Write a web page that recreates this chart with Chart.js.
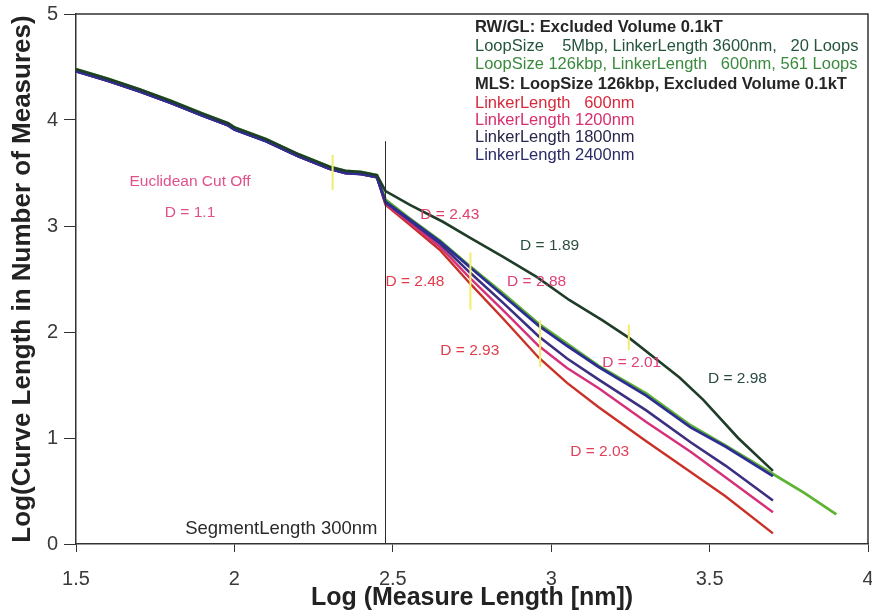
<!DOCTYPE html>
<html>
<head>
<meta charset="utf-8">
<script src="https://cdn.jsdelivr.net/npm/chart.js@4.4.1/dist/chart.umd.min.js"></script>
<style>
    html, body { margin: 0; padding: 0; background: #fff; }
    #wrap { width: 872px; height: 613px; position: relative; }
</style>
</head>
<body>
<div id="wrap"><canvas id="myChart"></canvas></div>
<script>
// shared start of all curves (before the segment length)
let xHead = [1.5, 1.6, 1.7, 1.8, 1.9, 1.98, 2.0, 2.1, 2.2, 2.3, 2.35, 2.4, 2.45];
let headMls = [4.46, 4.37, 4.27, 4.16, 4.04, 3.95, 3.91, 3.80, 3.66, 3.54, 3.50, 3.49, 3.46];
let headRw = [4.48, 4.39, 4.29, 4.18, 4.06, 3.97, 3.93, 3.82, 3.68, 3.56, 3.52, 3.51, 3.48];

// MLS curves after the segment length
let xMls = [2.477, 2.55, 2.65, 2.74, 2.85, 2.96, 3.05, 3.15, 3.3, 3.44, 3.55, 3.7];
let mls600 = [3.20, 3.02, 2.77, 2.47, 2.12, 1.76, 1.52, 1.29, 0.97, 0.68, 0.45, 0.10];
let mls1200 = [3.21, 3.04, 2.80, 2.52, 2.20, 1.87, 1.66, 1.47, 1.15, 0.87, 0.63, 0.30];
let mls1800 = [3.22, 3.06, 2.83, 2.57, 2.27, 1.96, 1.75, 1.55, 1.26, 0.96, 0.74, 0.41];
let mls2400 = [3.23, 3.07, 2.85, 2.62, 2.34, 2.06, 1.87, 1.67, 1.40, 1.10, 0.92, 0.64];

// RW/GL curves
let xRw5M = [2.477, 2.554, 2.658, 2.743, 2.847, 2.954, 3.058, 3.162, 3.248, 3.333, 3.405, 3.48, 3.59, 3.70];
let rw5M = [3.33, 3.20, 3.04, 2.89, 2.71, 2.52, 2.30, 2.11, 1.94, 1.74, 1.57, 1.36, 1.00, 0.69];
let xRw126 = [2.477, 2.55, 2.65, 2.74, 2.85, 2.96, 3.05, 3.15, 3.3, 3.44, 3.55, 3.7, 3.8, 3.9];
let rw126 = [3.25, 3.08, 2.86, 2.63, 2.36, 2.08, 1.89, 1.68, 1.42, 1.12, 0.93, 0.66, 0.48, 0.28];

// yellow cut off marks
let markX = [2.31, 2.745, 2.965, 3.245];
let markLow = [3.34, 2.21, 1.67, 1.83];
let markHigh = [3.67, 2.75, 2.11, 2.07];

let segmentX = 2.477;
let segmentTop = 3.8;

let xTicks = [1.5, 2, 2.5, 3, 3.5, 4];
let yTicks = [0, 1, 2, 3, 4, 5];

let notes = [
    ["Euclidean Cut Off", 1.86, 3.42, "#e2508c"],
    ["D = 1.1", 1.86, 3.13, "#e2508c"],
    ["D = 2.43", 2.68, 3.11, "#e0406c"],
    ["D = 1.89", 2.995, 2.81, "#2b4e3c"],
    ["D = 2.48", 2.57, 2.47, "#e23c4c"],
    ["D = 2.88", 2.954, 2.47, "#e0407a"],
    ["D = 2.93", 2.743, 1.82, "#e23c4c"],
    ["D = 2.01", 3.254, 1.71, "#e0407a"],
    ["D = 2.98", 3.588, 1.56, "#2b4a44"],
    ["D = 2.03", 3.153, 0.87, "#e2405a"]
];

let legendLines = [
    ["RW/GL: Excluded Volume 0.1kT", "bold", "#262626"],
    ["LoopSize    5Mbp, LinkerLength 3600nm,   20 Loops", "normal", "#24553c"],
    ["LoopSize 126kbp, LinkerLength   600nm, 561 Loops", "normal", "#3a8a3e"],
    ["MLS: LoopSize 126kbp, Excluded Volume 0.1kT", "bold", "#262626"],
    ["LinkerLength   600nm", "normal", "#d8283c"],
    ["LinkerLength 1200nm", "normal", "#d8306e"],
    ["LinkerLength 1800nm", "normal", "#26264a"],
    ["LinkerLength 2400nm", "normal", "#2a2a66"]
];

const FONT = "'Liberation Sans', Arial, sans-serif";

function toPoints(xs, ys) {
    return xs.map((x, i) => ({x: x, y: ys[i]}));
}

function curve(ys, tailX, tailY, color, width) {
    return {
        data: toPoints(xHead, ys).concat(toPoints(tailX, tailY)),
        borderColor: color,
        borderWidth: width,
        pointRadius: 0,
        showLine: true,
        tension: 0,
        fill: false
    };
}

// first dataset is drawn on top
function buildDatasets() {
    let sets = [];
    markX.forEach((mx, i) => {
        sets.push({
            data: [{x: mx, y: markLow[i]}, {x: mx, y: markHigh[i]}],
            borderColor: "#f3ec6a",
            borderWidth: 2,
            pointRadius: 0,
            showLine: true
        });
    });
    sets.push({
        data: [{x: segmentX, y: 0}, {x: segmentX, y: segmentTop}],
        borderColor: "#2a2a2a",
        borderWidth: 1,
        pointRadius: 0,
        showLine: true
    });
    sets.push(curve(headRw, xRw5M, rw5M, "#1f3d28", 2.6));
    sets.push(curve(headMls, xMls, mls2400, "#2e2e92", 2.8));
    sets.push(curve(headRw, xRw126, rw126, "#5cb432", 2.8));
    sets.push(curve(headMls, xMls, mls1800, "#3b2f80", 2.6));
    sets.push(curve(headMls, xMls, mls1200, "#d6307a", 2.4));
    sets.push(curve(headMls, xMls, mls600, "#c93028", 2.4));
    return sets;
}

// tick labels, text inside the plot and the frame
const notesPlugin = {
    id: "notes",
    afterDatasetsDraw(chart) {
        let ctx = chart.ctx;
        let xs = chart.scales.x;
        let ys = chart.scales.y;
        let area = chart.chartArea;
        ctx.save();
        ctx.strokeStyle = "#333";
        ctx.lineWidth = 1.5;
        ctx.beginPath();
        ctx.moveTo(area.left, area.top);
        ctx.lineTo(area.right, area.top);
        ctx.lineTo(area.right, area.bottom);
        ctx.stroke();

        ctx.fillStyle = "#3a3a3a";
        ctx.font = "20px " + FONT;
        ctx.textAlign = "center";
        ctx.textBaseline = "middle";
        xTicks.forEach(v => {
            ctx.fillText(String(v), xs.getPixelForValue(v), area.bottom + 35);
        });
        ctx.textAlign = "right";
        yTicks.forEach(v => {
            ctx.fillText(String(v), area.left - 18, ys.getPixelForValue(v));
        });

        ctx.font = "15.5px " + FONT;
        ctx.textAlign = "center";
        notes.forEach(n => {
            ctx.fillStyle = n[3];
            ctx.fillText(n[0], xs.getPixelForValue(n[1]), ys.getPixelForValue(n[2]));
        });

        ctx.fillStyle = "#2a2a2a";
        ctx.font = "18.5px " + FONT;
        ctx.textAlign = "right";
        ctx.fillText("SegmentLength 300nm", xs.getPixelForValue(segmentX) - 8, ys.getPixelForValue(0.14));

        ctx.textAlign = "left";
        let lx = 475;
        let ly = [27, 46, 64, 84, 103, 120, 137, 155];
        legendLines.forEach((l, i) => {
            ctx.fillStyle = l[2];
            ctx.font = (l[1] == "bold" ? "bold 16.5px " : "16.5px ") + FONT;
            ctx.fillText(l[0], lx, ly[i]);
        });
        ctx.restore();
    }
};

function initChart() {
    let ctx = document.getElementById("myChart").getContext("2d");
    new Chart(ctx, {
        type: "scatter",
        data: { datasets: buildDatasets() },
        options: {
            responsive: true,
            maintainAspectRatio: false,
            animation: false,
            layout: { padding: { top: 14, right: 4, left: 0, bottom: 0 } },
            plugins: {
                legend: { display: false },
                tooltip: { enabled: false }
            },
            scales: {
                x: {
                    type: "linear",
                    min: 1.5,
                    max: 4,
                    afterBuildTicks: axis => { axis.ticks = xTicks.map(v => ({value: v})); },
                    afterFit: axis => { axis.height = 69; },
                    grid: { drawOnChartArea: false, drawTicks: true, tickLength: 8, color: "#333" },
                    border: { color: "#333", width: 1.5 },
                    ticks: { display: false },
                    title: {
                        display: true,
                        text: "Log (Measure Length [nm])",
                        color: "#222",
                        padding: { top: 0, bottom: 0 },
                        font: { size: 25, weight: "bold", family: FONT }
                    }
                },
                y: {
                    type: "linear",
                    min: 0,
                    max: 5,
                    afterBuildTicks: axis => { axis.ticks = yTicks.map(v => ({value: v})); },
                    afterFit: axis => { axis.width = 76; },
                    grid: { drawOnChartArea: false, drawTicks: true, tickLength: 12, color: "#333" },
                    border: { color: "#333", width: 1.5 },
                    ticks: { display: false },
                    title: {
                        display: true,
                        text: "Log(Curve Length in Number of Measures)",
                        color: "#222",
                        padding: { top: 7, bottom: 0 },
                        font: { size: 26, weight: "bold", family: FONT }
                    }
                }
            }
        },
        plugins: [notesPlugin]
    });
}

initChart();
</script>
</body>
</html>
